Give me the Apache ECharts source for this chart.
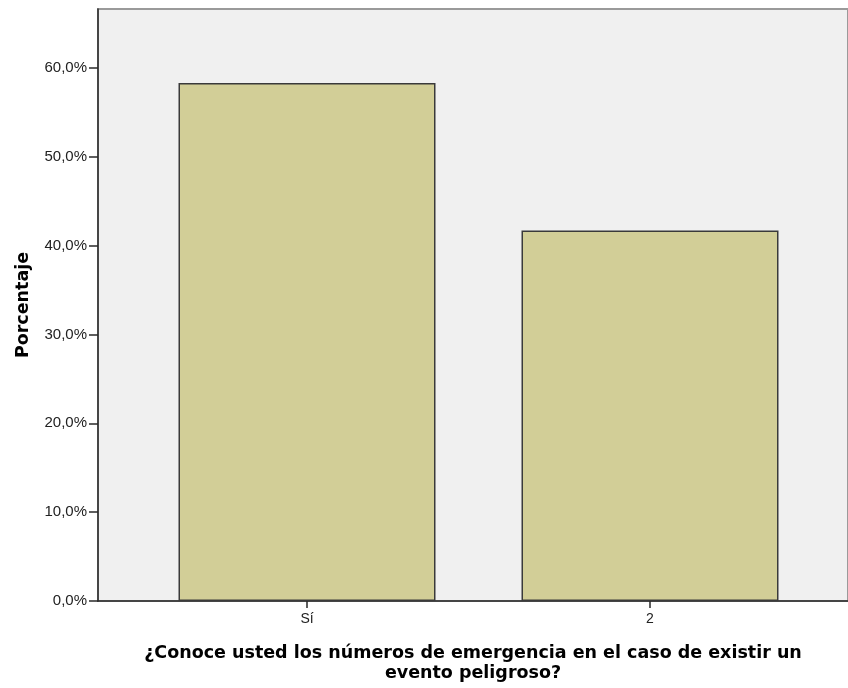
<!DOCTYPE html>
<html>
<head>
<meta charset="utf-8">
<script src="https://cdn.jsdelivr.net/npm/echarts@6/dist/echarts.min.js"></script>
<style>
  html, body { margin: 0; padding: 0; background: #ffffff; }
  #chart { width: 848px; height: 688px; }
</style>
</head>
<body>
<div id="chart"></div>
<script>
const categories = ['Sí', '2'];
const percentValues = [58.3, 41.7];
const yTicks = [0, 10, 20, 30, 40, 50, 60];
const yMax = 66.64;
const xTitle = '¿Conoce usted los números de emergencia en el caso de existir un\nevento peligroso?';
const yTitle = 'Porcentaje';

const chart = echarts.init(document.getElementById('chart'), null, { renderer: 'canvas' });
const fmt = v => v.toFixed(1).replace('.', ',') + '%';

chart.setOption({
  backgroundColor: '#ffffff',
  animation: false,
  grid: [
    { left: 98, top: 9, width: 761, height: 592, show: true,
      backgroundColor: '#f0f0f0', borderColor: '#9a9a9a', borderWidth: 2 },
    { left: 135.5, top: 9, width: 686, height: 592 }
  ],
  xAxis: [
    { gridIndex: 0, type: 'value', min: 0, max: 1,
      axisLine: { show: true, lineStyle: { color: '#2a2a2a', width: 1.5 } },
      axisTick: { show: false }, axisLabel: { show: false }, splitLine: { show: false },
      name: xTitle, nameLocation: 'middle', nameGap: 42,
      nameTextStyle: { fontFamily: 'DejaVu Sans', fontWeight: 'bold', fontSize: 17.5,
        color: '#000000', lineHeight: 20, align: 'center' } },
    { gridIndex: 1, type: 'category', data: categories, boundaryGap: true,
      axisLine: { show: false },
      axisTick: { show: true, alignWithLabel: true, length: 7, lineStyle: { color: '#2a2a2a', width: 1.5 } },
      axisLabel: { fontFamily: 'Liberation Sans', fontSize: 14, color: '#222222', margin: 11 },
      splitLine: { show: false } }
  ],
  yAxis: [
    { gridIndex: 0, type: 'value', min: 0, max: yMax,
      axisLine: { show: true, lineStyle: { color: '#2a2a2a', width: 1.5 } },
      axisTick: { show: true, length: 9, customValues: yTicks, lineStyle: { color: '#2a2a2a', width: 1.5 } },
      axisLabel: { customValues: yTicks, formatter: fmt, fontFamily: 'Liberation Sans',
        fontSize: 15, color: '#222222', margin: 11 },
      splitLine: { show: false },
      name: yTitle, nameLocation: 'middle', nameGap: 66,
      nameTextStyle: { fontFamily: 'DejaVu Sans', fontWeight: 'bold', fontSize: 17.5, color: '#000000' } },
    { gridIndex: 1, type: 'value', min: 0, max: yMax, show: false }
  ],
  series: [
    { type: 'bar', xAxisIndex: 1, yAxisIndex: 1, data: percentValues, barWidth: 257,
      itemStyle: { color: '#d2ce97', borderColor: '#3a3a3a', borderWidth: 1.5 } }
  ]
});
</script>
</body>
</html>
